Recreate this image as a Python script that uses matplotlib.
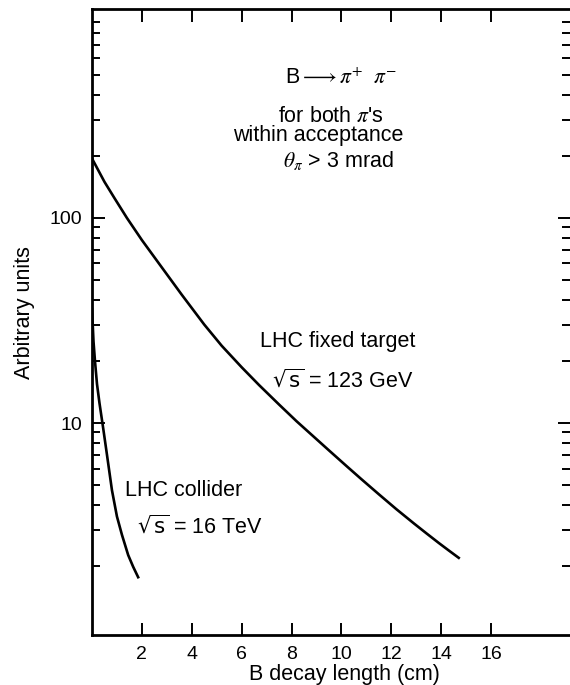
import matplotlib
matplotlib.use("Agg")
import matplotlib.pyplot as plt
from matplotlib import ticker

# values (B decay length in cm, arbitrary units)
fixed_target_x = [0, 0.25, 0.5, 0.9, 1.4, 2.0, 2.7, 3.6, 4.5, 5.2, 6.0, 6.7, 7.5,
                  8.2, 8.9, 9.5, 10.2, 10.8, 11.5, 12.2, 12.9, 13.4, 13.9, 14.3, 14.7]
fixed_target_y = [195, 171, 150, 125, 100, 78, 59.6, 42.2, 30.2, 23.8, 18.7, 15.3, 12.3,
                  10.2, 8.55, 7.35, 6.17, 5.32, 4.49, 3.80, 3.24, 2.90, 2.60, 2.39, 2.20]

collider_x = [0, 0.06, 0.12, 0.2, 0.3, 0.45, 0.6, 0.8, 1.0, 1.2, 1.45, 1.65, 1.85]
collider_y = [36, 25, 20, 15.5, 12.5, 9.4, 7.0, 4.7, 3.5, 2.85, 2.27, 1.99, 1.77]

x_ticks = [2, 4, 6, 8, 10, 12, 14, 16]
y_ticks = [10, 100]

W, H = 570, 685


def fig_xy(px, py):
    # pixel position in the reference -> figure fraction
    return px / W, 1 - py / H


plt.rcParams["font.family"] = ["Liberation Sans", "DejaVu Sans"]
plt.rcParams["mathtext.fontset"] = "stix"

fig = plt.figure(figsize=(W / 100, H / 100), dpi=100)
ax = fig.add_axes([92 / W, 1 - 635 / H, 1 - 92 / W, (635 - 9) / H])

ax.plot(fixed_target_x, fixed_target_y, color="black", lw=1.9)
ax.plot(collider_x, collider_y, color="black", lw=1.9)

ax.set_yscale("log")
ax.set_xlim(0, 19.16)
ax.set_ylim(0.925, 1045)

ax.xaxis.set_major_locator(ticker.FixedLocator(x_ticks))
ax.yaxis.set_major_locator(ticker.FixedLocator(y_ticks))
ax.yaxis.set_minor_locator(ticker.LogLocator(base=10, subs=range(2, 10)))
ax.yaxis.set_major_formatter(ticker.FormatStrFormatter("%d"))
ax.yaxis.set_minor_formatter(ticker.NullFormatter())

ax.tick_params(which="both", direction="in", top=True, right=True, width=1.4,
               labelsize=14)
ax.tick_params(which="major", length=9)
ax.tick_params(which="minor", length=5.5)
ax.tick_params(axis="y", pad=7)
ax.tick_params(axis="x", pad=8)

for side in ["left", "bottom", "top"]:
    ax.spines[side].set_linewidth(2)
ax.spines["right"].set_visible(False)

ax.set_xlabel("B decay length (cm)", fontsize=15.5)
ax.xaxis.set_label_coords((344 - 92) / 478, -(664 - 635) / 626)
ax.set_ylabel("Arbitrary units", fontsize=15.5)
ax.yaxis.set_label_coords((35 - 92) / 478, (635 - 313) / 626)

fs = 15.5
tr = fig.transFigure
ax.text(*fig_xy(285, 78), r"B$\longrightarrow\pi^{+}\ \ \pi^{-}$", transform=tr,
        fontsize=fs, va="center", ha="left")
ax.text(*fig_xy(278, 116), r"for both $\pi$'s", transform=tr,
        fontsize=fs, va="center", ha="left")
ax.text(*fig_xy(233, 136), "within acceptance", transform=tr,
        fontsize=fs, va="center", ha="left")
ax.text(*fig_xy(283, 160), r"$\theta_{\pi}$ > 3 mrad", transform=tr,
        fontsize=fs, va="center", ha="left")

ax.text(*fig_xy(260, 342), "LHC fixed target", transform=tr,
        fontsize=fs, va="center", ha="left")
ax.text(*fig_xy(272, 380), r"$\sqrt{\mathrm{s}}$ = 123 GeV", transform=tr,
        fontsize=fs, va="center", ha="left", math_fontfamily="dejavusans")
ax.text(*fig_xy(125, 490), "LHC collider", transform=tr,
        fontsize=fs, va="center", ha="left")
ax.text(*fig_xy(137, 526), r"$\sqrt{\mathrm{s}}$ = 16 TeV", transform=tr,
        fontsize=fs, va="center", ha="left", math_fontfamily="dejavusans")

fig.savefig("out.png", dpi=100)
